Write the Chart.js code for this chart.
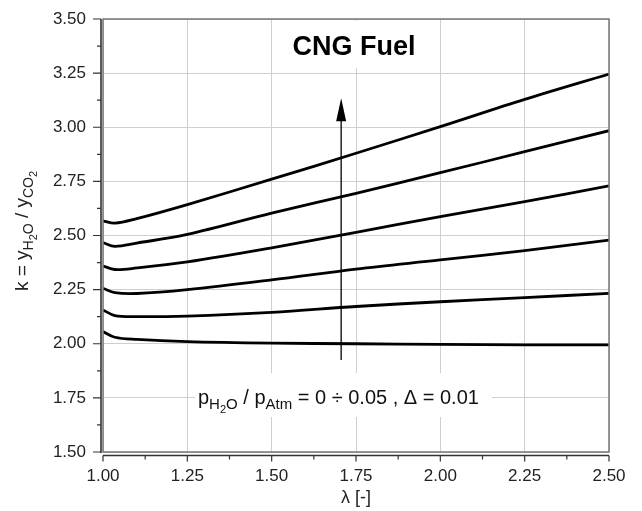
<!DOCTYPE html>
<html>
<head>
<meta charset="utf-8">
<script src="https://cdn.jsdelivr.net/npm/chart.js@4/dist/chart.umd.min.js"></script>
<style>
  html, body { margin: 0; padding: 0; background: #fff; }
  canvas { display: block; }
</style>
</head>
<body>
<canvas id="kChart" width="642" height="511"></canvas>
<script>
// air ratio lambda
const lambda = [1.00, 1.035, 1.10, 1.25, 1.50, 1.75, 2.00, 2.25, 2.50];
// k = yH2O / yCO2 for pH2O / pAtm = 0 ... 0.05
const k000 = [2.056, 2.030, 2.020, 2.010, 2.003, 2.000, 1.997, 1.995, 1.995];
const k001 = [2.156, 2.130, 2.125, 2.128, 2.145, 2.172, 2.194, 2.213, 2.233];
const k002 = [2.256, 2.236, 2.232, 2.250, 2.295, 2.345, 2.387, 2.430, 2.479];
const k003 = [2.359, 2.343, 2.350, 2.378, 2.443, 2.515, 2.587, 2.656, 2.729];
const k004 = [2.467, 2.450, 2.465, 2.505, 2.603, 2.695, 2.790, 2.887, 2.984];
const k005 = [2.568, 2.557, 2.578, 2.643, 2.760, 2.880, 3.003, 3.129, 3.246];
const series = [k000, k001, k002, k003, k004, k005];

const xTicks = [1.00, 1.25, 1.50, 1.75, 2.00, 2.25, 2.50];
const yTicks = [1.50, 1.75, 2.00, 2.25, 2.50, 2.75, 3.00, 3.25, 3.50];

// arrow: pH2O increasing
const arrowX = 1.706;
const arrowFrom = 1.925;
const arrowTo = 3.134;

const FONT = '"Liberation Sans", Arial, sans-serif';

// text with subscripts: [text, level], level 0 = normal, 1 = sub, 2 = sub of sub
function richWidth(ctx, parts, sizes) {
    let w = 0;
    for (const [t, lv] of parts) {
        ctx.font = sizes[lv] + 'px ' + FONT;
        w += ctx.measureText(t).width;
    }
    return w;
}
function drawRich(ctx, parts, x, y, sizes, shifts) {
    let cx = x;
    ctx.textBaseline = 'alphabetic';
    ctx.textAlign = 'left';
    for (const [t, lv] of parts) {
        ctx.font = sizes[lv] + 'px ' + FONT;
        ctx.fillText(t, cx, y + shifts[lv]);
        cx += ctx.measureText(t).width;
    }
}

const decor = {
    id: 'decor',
    beforeDatasetsDraw(chart) {
        const ctx = chart.ctx;
        const ys = chart.scales.y;
        ctx.save();
        // title
        ctx.fillStyle = '#fff';
        ctx.fillRect(283, ys.top + 2, 145, 47);
        ctx.fillStyle = '#000';
        ctx.font = 'bold 27px ' + FONT;
        ctx.textAlign = 'center';
        ctx.textBaseline = 'alphabetic';
        ctx.fillText('CNG Fuel', 354, 55);
        // parameter note
        const note = [['p', 0], ['H', 1], ['2', 2], ['O', 1], [' / p', 0], ['Atm', 1],
                      [' = 0 \u00F7 0.05 , \u0394 = 0.01', 0]];
        ctx.fillStyle = '#fff';
        ctx.fillRect(195, 373, 297, 44);
        ctx.fillStyle = '#111';
        drawRich(ctx, note, 198, 404, [20, 15, 11], [0, 5, 9]);
        ctx.restore();
    },
    afterDraw(chart) {
        const ctx = chart.ctx;
        const a = chart.chartArea;
        const xs = chart.scales.x, ys = chart.scales.y;
        ctx.save();
        // plot frame
        ctx.strokeStyle = '#777';
        ctx.lineWidth = 1.5;
        ctx.strokeRect(a.left, a.top, a.right - a.left, a.bottom - a.top);
        // detached axis lines with major/minor ticks
        const yAxisX = a.left - 2;
        const xAxisY = a.bottom + 3.5;
        ctx.strokeStyle = '#333';
        ctx.lineWidth = 1.6;
        ctx.beginPath();
        ctx.moveTo(yAxisX, a.top);
        ctx.lineTo(yAxisX, a.bottom + 1);
        ctx.moveTo(a.left, xAxisY);
        ctx.lineTo(a.right, xAxisY);
        ctx.stroke();
        ctx.lineWidth = 1.2;
        ctx.beginPath();
        for (let i = 0; i < yTicks.length; i++) {
            const py = ys.getPixelForValue(yTicks[i]);
            ctx.moveTo(yAxisX, py); ctx.lineTo(yAxisX - 8, py);
            if (i < yTicks.length - 1) {
                const pm = ys.getPixelForValue((yTicks[i] + yTicks[i + 1]) / 2);
                ctx.moveTo(yAxisX, pm); ctx.lineTo(yAxisX - 4, pm);
            }
        }
        for (let i = 0; i < xTicks.length; i++) {
            const px = xs.getPixelForValue(xTicks[i]);
            ctx.moveTo(px, xAxisY); ctx.lineTo(px, xAxisY + 6);
            if (i < xTicks.length - 1) {
                const pm = xs.getPixelForValue((xTicks[i] + xTicks[i + 1]) / 2);
                ctx.moveTo(pm, xAxisY); ctx.lineTo(pm, xAxisY + 4);
            }
        }
        ctx.stroke();
        // arrow
        const ax = xs.getPixelForValue(arrowX);
        const ay0 = ys.getPixelForValue(arrowFrom);
        const ay1 = ys.getPixelForValue(arrowTo);
        ctx.strokeStyle = '#000';
        ctx.lineWidth = 1.3;
        ctx.beginPath();
        ctx.moveTo(ax, ay0);
        ctx.lineTo(ax, ay1 + 20);
        ctx.stroke();
        ctx.fillStyle = '#000';
        ctx.beginPath();
        ctx.moveTo(ax, ay1);
        ctx.lineTo(ax - 5, ay1 + 23);
        ctx.lineTo(ax + 5, ay1 + 23);
        ctx.closePath();
        ctx.fill();
        // axis titles
        ctx.fillStyle = '#222';
        ctx.font = '18px ' + FONT;
        ctx.textAlign = 'center';
        ctx.textBaseline = 'alphabetic';
        ctx.fillText('\u03BB [-]', (a.left + a.right) / 2, 503);
        const yTitle = [['k = y', 0], ['H', 1], ['2', 2], ['O', 1], [' / y', 0], ['CO', 1], ['2', 2]];
        const sz = [19, 14, 11], sh = [0, 5, 9];
        const w = richWidth(ctx, yTitle, sz);
        ctx.translate(28, 231);
        ctx.rotate(-Math.PI / 2);
        drawRich(ctx, yTitle, -w / 2, 0, sz, sh);
        ctx.restore();
    }
};

const chartElement = document.getElementById('kChart').getContext('2d');
const kChart = new Chart(chartElement, {
    type: 'line',
    data: {
        datasets: series.map((s, i) => ({
            label: 'p = 0.0' + i,
            data: lambda.map((x, j) => ({ x: x, y: s[j] })),
            borderColor: '#000',
            borderWidth: 2.8,
            pointRadius: 0,
            tension: 0.35,
            fill: false
        }))
    },
    options: {
        responsive: false,
        animation: false,
        devicePixelRatio: 1,
        layout: { padding: { left: 0, top: 19, right: 33, bottom: 0 } },
        plugins: {
            legend: { display: false },
            tooltip: { enabled: false }
        },
        scales: {
            x: {
                type: 'linear',
                min: 1.0,
                max: 2.5,
                afterBuildTicks: (scale) => { scale.ticks = xTicks.map(v => ({ value: v })); },
                afterFit: (scale) => {
                    scale.height = 59;
                    scale.paddingLeft = 0;
                    scale.paddingRight = 0;
                },
                ticks: {
                    callback: (v) => v.toFixed(2),
                    color: '#222',
                    font: { family: FONT, size: 17 },
                    padding: 14,
                    maxRotation: 0
                },
                grid: { color: '#cfcfcf', lineWidth: 1, drawTicks: false },
                border: { display: false }
            },
            y: {
                type: 'linear',
                min: 1.5,
                max: 3.5,
                afterBuildTicks: (scale) => { scale.ticks = yTicks.map(v => ({ value: v })); },
                afterFit: (scale) => {
                    scale.width = 103;
                    scale.paddingTop = 0;
                    scale.paddingBottom = 0;
                },
                ticks: {
                    callback: (v) => v.toFixed(2),
                    color: '#222',
                    font: { family: FONT, size: 17 },
                    padding: 17
                },
                grid: { color: '#cfcfcf', lineWidth: 1, drawTicks: false },
                border: { display: false }
            }
        }
    },
    plugins: [decor]
});
</script>
</body>
</html>
